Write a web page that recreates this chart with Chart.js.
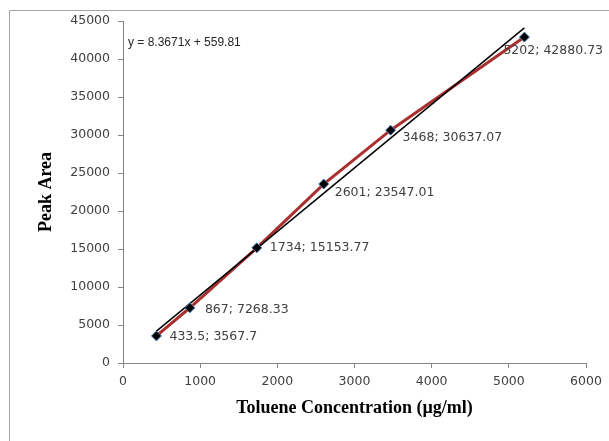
<!DOCTYPE html>
<html>
<head>
<meta charset="utf-8">
<script src="https://cdn.jsdelivr.net/npm/chart.js@4"></script>
<style>
  body { margin: 0; background: #fff; }
  #wrap { width: 609px; height: 441px; }
</style>
</head>
<body>
<div id="wrap"><canvas id="calChart" width="609" height="441"></canvas></div>
<script>
// Calibration data (toluene)
const concentration = [433.5, 867, 1734, 2601, 3468, 5202];
const peakArea = [3567.7, 7268.33, 15153.77, 23547.01, 30637.07, 42880.73];
const pointLabels = ['433.5; 3567.7', '867; 7268.33', '1734; 15153.77', '2601; 23547.01', '3468; 30637.07', '5202; 42880.73'];

// Linear trendline end points, as shown on the chart
const trendX = [433.5, 5202];
const trendY = [4187, 44086];
const trendEquation = 'y = 8.3671x + 559.81';

const xTicks = [0, 1000, 2000, 3000, 4000, 5000, 6000];
const yTicks = [0, 5000, 10000, 15000, 20000, 25000, 30000, 35000, 40000, 45000];

const tickFont = { family: "'DejaVu Sans', sans-serif", size: 12.5 };
const titleFont = { family: "'Liberation Serif', 'Times New Roman', serif", size: 18, weight: 'bold' };
const axisGray = '#868686';

const toXY = (xs, ys) => xs.map((x, i) => ({ x: x, y: ys[i] }));

// label offsets next to each point (px)
const labelOffsets = [[13, 1], [15, 2], [13, 0], [11, 9], [12, 8], [-21, 14]];

const extras = {
    id: 'extras',
    beforeDraw(chart) {
        const c = chart.ctx;
        c.save();
        c.strokeStyle = '#a6a6a6';
        c.lineWidth = 1;
        c.beginPath();
        c.moveTo(9.5, 460);
        c.lineTo(9.5, 10.5);
        c.lineTo(620, 10.5);
        c.stroke();
        c.restore();
    },
    afterDraw(chart) {
        const c = chart.ctx;
        c.save();
        c.fillStyle = '#262626';
        c.font = "12px 'Liberation Sans', sans-serif";
        c.textBaseline = 'middle';
        c.textAlign = 'left';
        c.fillText(trendEquation, 128, 43);
        c.fillStyle = '#404040';
        c.font = "12.5px 'DejaVu Sans', sans-serif";
        const meta = chart.getDatasetMeta(2);
        meta.data.forEach((pt, i) => {
            const off = labelOffsets[i];
            c.fillText(pointLabels[i], pt.x + off[0], pt.y + off[1]);
        });
        c.restore();
    }
};

new Chart(document.getElementById('calChart').getContext('2d'), {
    type: 'scatter',
    data: {
        datasets: [
            {
                label: 'Series line',
                data: toXY(concentration, peakArea),
                showLine: true,
                borderColor: '#a9302e',
                borderWidth: 3,
                pointRadius: 0,
                order: 3
            },
            {
                label: 'Linear trend',
                data: toXY(trendX, trendY),
                showLine: true,
                borderColor: '#000000',
                borderWidth: 1.5,
                pointRadius: 0,
                order: 2
            },
            {
                label: 'Peak Area',
                data: toXY(concentration, peakArea),
                showLine: false,
                pointStyle: 'rectRot',
                pointRadius: 5,
                backgroundColor: '#000000',
                borderColor: '#4a7ebb',
                borderWidth: 1,
                order: 1
            }
        ]
    },
    options: {
        responsive: false,
        animation: false,
        layout: { padding: { left: 0, right: 23, top: 21, bottom: 0 } },
        plugins: { legend: { display: false }, tooltip: { enabled: false } },
        scales: {
            x: {
                type: 'linear', min: 0, max: 6000,
                afterBuildTicks: (s) => { s.ticks = xTicks.map(v => ({ value: v })); },
                afterFit: (s) => { s.height = 78; },
                border: { color: axisGray, width: 1 },
                grid: { drawOnChartArea: false, tickLength: 5, color: axisGray },
                ticks: { font: tickFont, color: '#404040', padding: 6, maxRotation: 0, callback: (v) => String(v) },
                title: { display: true, text: 'Toluene Concentration (µg/ml)', font: titleFont, color: '#000', padding: { bottom: 22 } }
            },
            y: {
                type: 'linear', min: 0, max: 45000,
                afterBuildTicks: (s) => { s.ticks = yTicks.map(v => ({ value: v })); },
                afterFit: (s) => { s.width = 123; },
                border: { color: axisGray, width: 1 },
                grid: { drawOnChartArea: false, tickLength: 5, color: axisGray },
                ticks: { font: tickFont, color: '#404040', padding: 8, callback: (v) => String(v) },
                title: { display: true, text: 'Peak Area', font: titleFont, color: '#000', padding: { top: 36 } }
            }
        }
    },
    plugins: [extras]
});
</script>
</body>
</html>
